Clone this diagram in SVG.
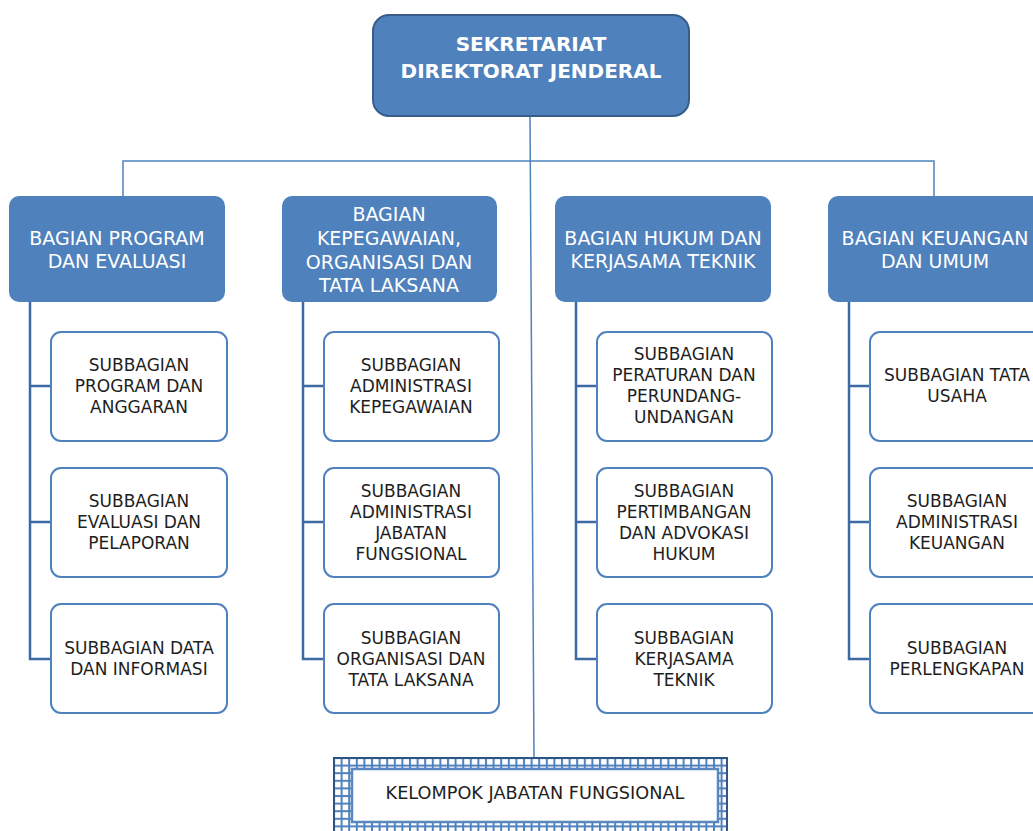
<svg xmlns="http://www.w3.org/2000/svg" width="1033" height="831" viewBox="0 0 1033 831">
<defs>
<style>
.top{fill:#4f81bd;stroke:#385d8a;stroke-width:2}
.sec{fill:#4f81bd}
.sub{fill:#fff;stroke:#4f81bd;stroke-width:2}
.ttl{font-family:"DejaVu Sans",Verdana,sans-serif;font-size:20px;font-weight:bold;fill:#fff;text-anchor:middle}
.st{font-family:"DejaVu Sans",Verdana,sans-serif;font-size:19px;fill:#fff;text-anchor:middle}
.t{font-family:"DejaVu Sans",Verdana,sans-serif;font-size:17px;fill:#1e1e1e;text-anchor:middle}
.tb{font-size:17.7px}
.conn{fill:none;stroke:#4f81bd;stroke-width:1.5}
.br{fill:none;stroke:#3e6aa4;stroke-width:2.5}
</style>
<pattern id="grid" x="333" y="757" width="7.6" height="7.6" patternUnits="userSpaceOnUse">
<rect width="7.6" height="7.6" fill="#fff"/>
<rect width="2" height="7.6" fill="#4f81bd"/>
<rect width="7.6" height="2" fill="#4f81bd"/>
</pattern>
</defs>
<g id="connectors">
<path class="conn" d="M530 116 L534 757"/>
<path class="conn" d="M123 197 V161 H934 V197"/>
<path class="br" d="M30 302 V659 H51 M30 386 H51 M30 522 H51"/>
<path class="br" d="M303 302 V659 H324 M303 386 H324 M303 522 H324"/>
<path class="br" d="M576 302 V659 H597 M576 386 H597 M576 522 H597"/>
<path class="br" d="M849 302 V659 H870 M849 386 H870 M849 522 H870"/>
</g>
<g id="sekretariat">
<rect class="top" x="373" y="15" width="316" height="101" rx="16"/>
<text class="ttl" x="531" y="51">SEKRETARIAT</text>
<text class="ttl" x="531" y="78">DIREKTORAT JENDERAL</text>
</g>
<g id="bagian-program">
<rect class="sec" x="9" y="196" width="216" height="106" rx="10"/>
<text class="st" x="117" y="245">BAGIAN PROGRAM</text>
<text class="st" x="117" y="268">DAN EVALUASI</text>
</g>
<g id="bagian-kepegawaian">
<rect class="sec" x="282" y="196" width="215" height="106" rx="10"/>
<text class="st" x="389" y="221">BAGIAN</text>
<text class="st" x="389" y="245">KEPEGAWAIAN,</text>
<text class="st" x="389" y="269">ORGANISASI DAN</text>
<text class="st" x="389" y="292">TATA LAKSANA</text>
</g>
<g id="bagian-hukum">
<rect class="sec" x="555" y="196" width="216" height="106" rx="10"/>
<text class="st" x="663" y="245">BAGIAN HUKUM DAN</text>
<text class="st" x="663" y="268">KERJASAMA TEKNIK</text>
</g>
<g id="bagian-keuangan">
<rect class="sec" x="828" y="196" width="216" height="106" rx="10"/>
<text class="st" x="935" y="245">BAGIAN KEUANGAN</text>
<text class="st" x="935" y="268">DAN UMUM</text>
</g>
<g id="sub-program-anggaran">
<rect class="sub" x="51" y="332" width="176" height="109" rx="10"/>
<text class="t" x="139" y="371">SUBBAGIAN</text>
<text class="t" x="139" y="392">PROGRAM DAN</text>
<text class="t" x="139" y="413">ANGGARAN</text>
</g>
<g id="sub-evaluasi">
<rect class="sub" x="51" y="468" width="176" height="109" rx="10"/>
<text class="t" x="139" y="507">SUBBAGIAN</text>
<text class="t" x="139" y="528">EVALUASI DAN</text>
<text class="t" x="139" y="549">PELAPORAN</text>
</g>
<g id="sub-data">
<rect class="sub" x="51" y="604" width="176" height="109" rx="10"/>
<text class="t" x="139" y="654">SUBBAGIAN DATA</text>
<text class="t" x="139" y="675">DAN INFORMASI</text>
</g>
<g id="sub-adm-kepegawaian">
<rect class="sub" x="324" y="332" width="175" height="109" rx="10"/>
<text class="t" x="411" y="371">SUBBAGIAN</text>
<text class="t" x="411" y="392">ADMINISTRASI</text>
<text class="t" x="411" y="413">KEPEGAWAIAN</text>
</g>
<g id="sub-adm-jabatan">
<rect class="sub" x="324" y="468" width="175" height="109" rx="10"/>
<text class="t" x="411" y="497">SUBBAGIAN</text>
<text class="t" x="411" y="518">ADMINISTRASI</text>
<text class="t" x="411" y="539">JABATAN</text>
<text class="t" x="411" y="560">FUNGSIONAL</text>
</g>
<g id="sub-organisasi">
<rect class="sub" x="324" y="604" width="175" height="109" rx="10"/>
<text class="t" x="411" y="644">SUBBAGIAN</text>
<text class="t" x="411" y="665">ORGANISASI DAN</text>
<text class="t" x="411" y="686">TATA LAKSANA</text>
</g>
<g id="sub-peraturan">
<rect class="sub" x="597" y="332" width="175" height="109" rx="10"/>
<text class="t" x="684" y="360">SUBBAGIAN</text>
<text class="t" x="684" y="381">PERATURAN DAN</text>
<text class="t" x="684" y="402">PERUNDANG-</text>
<text class="t" x="684" y="423">UNDANGAN</text>
</g>
<g id="sub-pertimbangan">
<rect class="sub" x="597" y="468" width="175" height="109" rx="10"/>
<text class="t" x="684" y="497">SUBBAGIAN</text>
<text class="t" x="684" y="518">PERTIMBANGAN</text>
<text class="t" x="684" y="539">DAN ADVOKASI</text>
<text class="t" x="684" y="560">HUKUM</text>
</g>
<g id="sub-kerjasama">
<rect class="sub" x="597" y="604" width="175" height="109" rx="10"/>
<text class="t" x="684" y="644">SUBBAGIAN</text>
<text class="t" x="684" y="665">KERJASAMA</text>
<text class="t" x="684" y="686">TEKNIK</text>
</g>
<g id="sub-tata-usaha">
<rect class="sub" x="870" y="332" width="175" height="109" rx="10"/>
<text class="t" x="957" y="381">SUBBAGIAN TATA</text>
<text class="t" x="957" y="402">USAHA</text>
</g>
<g id="sub-adm-keuangan">
<rect class="sub" x="870" y="468" width="175" height="109" rx="10"/>
<text class="t" x="957" y="507">SUBBAGIAN</text>
<text class="t" x="957" y="528">ADMINISTRASI</text>
<text class="t" x="957" y="549">KEUANGAN</text>
</g>
<g id="sub-perlengkapan">
<rect class="sub" x="870" y="604" width="175" height="109" rx="10"/>
<text class="t" x="957" y="654">SUBBAGIAN</text>
<text class="t" x="957" y="675">PERLENGKAPAN</text>
</g>
<g id="kelompok-jabatan-fungsional">
<rect x="334" y="758" width="393" height="80" fill="url(#grid)" stroke="#2f5487" stroke-width="2"/>
<rect x="352" y="769" width="366" height="53" fill="#fff" stroke="#5b87c0" stroke-width="2.5"/>
<text class="t tb" x="535" y="799">KELOMPOK JABATAN FUNGSIONAL</text>
</g>
</svg>
